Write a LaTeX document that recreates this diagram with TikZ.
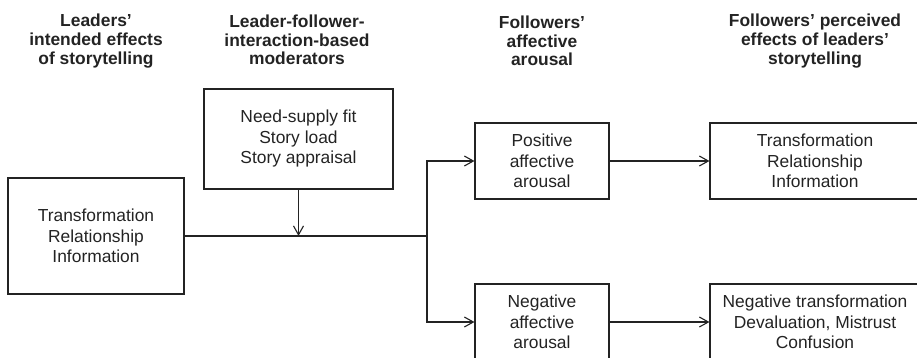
\documentclass[tikz,border=0pt]{standalone}
\usepackage{fontspec}
\setmainfont{Liberation Sans}
\usetikzlibrary{arrows.meta, positioning}
\definecolor{mydark}{RGB}{35,35,35}
\tikzset{
  box/.style={rectangle, draw=mydark, line width=1.1pt, align=center,
    inner sep=0pt, text=mydark, font=\fontsize{17.4}{20.5}\selectfont},
  header/.style={align=center, inner sep=0pt, text=mydark,
    font=\bfseries\fontsize{17.4}{18.6}\selectfont},
  arrow/.style={-{Straight Barb[length=9pt, width=10pt]}, line width=1.1pt, color=mydark},
  line/.style={line width=1.1pt, color=mydark}
}
\begin{document}
\begin{tikzpicture}[x=1pt, y=-1pt]
  \useasboundingbox (0,0) rectangle (917,358);
  \clip (0,0) rectangle (917,358);

  % Headers
  \node[header] (hlead) at (96,41) {Leaders'\\intended effects\\of storytelling};
  \node[header] (hmoder) at (297,40) {Leader-follower-\\interaction-based\\moderators};
  \node[header] (harousal) at (542,41) {Followers'\\affective\\arousal};
  \node[header] (hperc) at (815,41) {Followers' perceived\\effects of leaders'\\storytelling};

  % Nodes
  \node[box, minimum width=176pt, minimum height=116pt] (lead) at (96,236) {Transformation\\Relationship\\Information};
  \node[box, minimum width=189pt, minimum height=100pt] (moder) at (298.5,139) {Need-supply fit\\Story load\\Story appraisal};
  \node[box, minimum width=134pt, minimum height=76pt] (pos) at (542,161) {Positive\\affective\\arousal};
  \node[box, minimum width=134pt, minimum height=76pt] (neg) at (542,322) {Negative\\affective\\arousal};
  \node[box, minimum width=210pt, minimum height=76pt] (posfx) at (815,161) {Transformation\\Relationship\\Information};
  \node[box, minimum width=210pt, minimum height=76pt] (negfx) at (815,322) {Negative transformation\\Devaluation, Mistrust\\Confusion};

  % Split point
  \coordinate (split) at (427,236);

  % Connectors
  \draw[line] (lead.east) -- (split);
  \draw[arrow] (moder.south) -- (moder.south |- lead.east);
  \draw[arrow] (split) |- (pos.west);
  \draw[arrow] (split) |- (neg.west);
  \draw[arrow] (pos.east) -- (posfx.west);
  \draw[arrow] (neg.east) -- (negfx.west);
\end{tikzpicture}
\end{document}
